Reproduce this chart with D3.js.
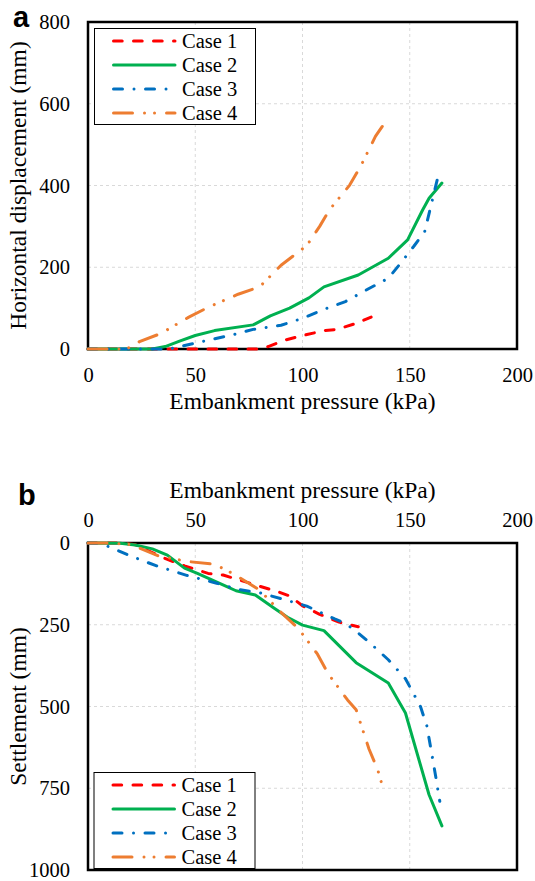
<!DOCTYPE html>
<html>
<head>
<meta charset="utf-8">
<script src="https://cdn.jsdelivr.net/npm/d3@7"></script>
<style>
  body { margin: 0; background: #fff; }
  svg { display: block; }
  text { font-family: "Liberation Serif", "Times New Roman", serif; fill: #000; }
</style>
</head>
<body>
<div id="chart"></div>
<script>
// ---- data ----
const pressureTicks = [0, 50, 100, 150, 200];
const dispTicks = [0, 200, 400, 600, 800];
const settleTicks = [0, 250, 500, 750, 1000];
const caseNames = ["Case 1", "Case 2", "Case 3", "Case 4"];

// (a) horizontal displacement, [pressure kPa, mm]
const hCase1 = [[0, 0], [79, 0], [84, 6], [92, 22], [101, 34], [110, 45], [116, 48], [124, 61], [132, 78]];
const hCase2 = [[0, 0], [30, 0], [36, 6], [43, 20], [50, 33], [59, 45], [77, 59], [85, 81], [94, 100],
  [103, 125], [110, 152], [126, 181], [140, 222], [149, 267], [156, 340], [159, 369], [165, 406]];
const hCase3 = [[0, 0], [38, 0], [43, 6], [58, 24], [67, 34], [77, 48], [90, 58], [100, 75], [110, 97],
  [120, 116], [131, 148], [140, 173], [145, 205], [152, 252], [157, 288], [163, 418]];
const hCase4 = [[0, 0], [18, 0], [24, 18], [34, 38], [47, 78], [56, 102], [70, 134], [80, 152], [90, 205],
  [102, 253], [108, 300], [112.5, 340], [122, 401], [127, 446], [134, 520], [139.5, 562]];

// (b) settlement, [pressure kPa, mm]
const sCase1 = [[0, 0], [15, 0], [22, 5], [35, 45], [45, 70], [56, 93], [63, 98], [75, 122], [89, 150],
  [94, 162], [100, 192], [108, 218], [117, 242], [126, 256]];
const sCase2 = [[0, 0], [15, 1], [22, 6], [30, 18], [37, 37], [45, 77], [51, 93], [65, 134], [69, 146],
  [78, 159], [87, 200], [93, 227], [100, 251], [110, 268], [125, 366], [140, 428], [148, 520],
  [159, 770], [165, 865]];
const sCase3 = [[0, 0], [5, 1], [10, 12], [20, 40], [32, 70], [46, 99], [60, 123], [70, 142], [80, 152],
  [92, 174], [102, 193], [115, 232], [120, 246], [125, 270], [131, 303], [140, 357], [148, 415],
  [155, 500], [158, 560], [162, 710], [164, 790]];
const sCase4 = [[0, 0], [10, 0], [20, 5], [33, 40], [47, 57], [59, 65], [68, 95], [80, 144], [90, 212],
  [98, 261], [107, 340], [112, 400], [121, 480], [125, 510], [131, 630], [135, 692], [138, 760]];

// ---- styles ----
const caseColors = ["#FF0000", "#00B050", "#0070C0", "#ED7D31"];
const caseDashes = ["8.7,11.3", null, "9,11.5,0.01,11.5", "19,12,0.01,10,0.01,12"];
const serif = '"Liberation Serif", "Times New Roman", serif';

const width = 535, height = 881;
const svg = d3.select("#chart").append("svg")
  .attr("width", width)
  .attr("height", height);

const x = d3.scaleLinear().domain([0, 200]).range([88, 517]);
const yDisp = d3.scaleLinear().domain([0, 800]).range([349, 22]);
const ySettle = d3.scaleLinear().domain([0, 1000]).range([543, 870]);

const drawPanel = (g, y, yTicks, series, xOnTop, yTitle) => {
  const [y0, y1] = d3.extent(y.range());

  // gridlines
  g.selectAll("line.vgrid")
    .data(pressureTicks.slice(1, -1))
    .enter().append("line")
    .attr("x1", d => x(d)).attr("x2", d => x(d))
    .attr("y1", y0).attr("y2", y1)
    .attr("stroke", "#d9d9d9").attr("stroke-width", 1).attr("stroke-dasharray", "3,3");
  g.selectAll("line.hgrid")
    .data(yTicks.slice(1, -1))
    .enter().append("line")
    .attr("x1", x(0)).attr("x2", x(200))
    .attr("y1", d => y(d)).attr("y2", d => y(d))
    .attr("stroke", "#d9d9d9").attr("stroke-width", 1).attr("stroke-dasharray", "3,3");

  // plot frame
  g.append("rect")
    .attr("x", x(0)).attr("y", y0)
    .attr("width", x(200) - x(0)).attr("height", y1 - y0)
    .attr("fill", "none").attr("stroke", "#000").attr("stroke-width", 2.5);

  // axes
  const fmt = d3.format("d");
  const yAxis = g.append("g")
    .attr("transform", `translate(${x(0)},0)`)
    .call(d3.axisLeft(y).tickValues(yTicks).tickFormat(fmt).tickSize(0).tickPadding(18));
  const xAxis = xOnTop
    ? g.append("g").attr("transform", `translate(0,${y0})`)
        .call(d3.axisTop(x).tickValues(pressureTicks).tickFormat(fmt).tickSize(0).tickPadding(16))
    : g.append("g").attr("transform", `translate(0,${y1})`)
        .call(d3.axisBottom(x).tickValues(pressureTicks).tickFormat(fmt).tickSize(0).tickPadding(18));
  [xAxis, yAxis].forEach(a => {
    a.select(".domain").remove();
    a.attr("font-family", serif).attr("font-size", 20.5);
    a.selectAll("text")
      .attr("fill", "#000")
      .style("font-family", serif)
      .style("font-size", "20.5px");
  });

  // axis titles
  g.append("text")
    .attr("x", (x(0) + x(200)) / 2)
    .attr("y", xOnTop ? 498 : 409)
    .attr("text-anchor", "middle")
    .style("font-family", serif)
    .style("font-size", "23.5px")
    .text("Embankment pressure (kPa)");
  g.append("text")
    .attr("transform", `translate(26,${(y0 + y1) / 2}) rotate(-90)`)
    .attr("text-anchor", "middle")
    .style("font-family", serif)
    .style("font-size", "23.5px")
    .text(yTitle);

  // data lines
  const line = d3.line().x(d => x(d[0])).y(d => y(d[1]));
  series.forEach((s, i) => {
    g.append("path")
      .datum(s)
      .attr("d", line)
      .attr("fill", "none")
      .attr("stroke", caseColors[i])
      .attr("stroke-width", 3)
      .attr("stroke-linecap", "round")
      .attr("stroke-linejoin", "round")
      .attr("stroke-dasharray", caseDashes[i]);
  });
};

const drawLegend = (g, left, top) => {
  g.append("rect")
    .attr("x", left).attr("y", top)
    .attr("width", 161).attr("height", 96)
    .attr("fill", "#fff").attr("stroke", "#000").attr("stroke-width", 1);
  caseNames.forEach((name, i) => {
    const cy = top + 12.5 + i * 24;
    g.append("line")
      .attr("x1", left + 19).attr("x2", left + 80.5)
      .attr("y1", cy).attr("y2", cy)
      .attr("stroke", caseColors[i])
      .attr("stroke-width", 3)
      .attr("stroke-linecap", "round")
      .attr("stroke-dasharray", caseDashes[i]);
    g.append("text")
      .attr("x", left + 87.5).attr("y", cy + 7)
      .style("font-family", serif)
      .style("font-size", "20.5px")
      .text(name);
  });
};

// panel a
const gA = svg.append("g");
drawPanel(gA, yDisp, dispTicks, [hCase1, hCase2, hCase3, hCase4], false, "Horizontal displacement (mm)");
drawLegend(gA, 94.5, 28.5);
gA.append("text")
  .attr("x", 13).attr("y", 26.5)
  .style("font-family", '"Liberation Sans", Arial, sans-serif')
  .style("font-weight", "bold")
  .style("font-size", "29px")
  .text("a");

// panel b
const gB = svg.append("g");
drawPanel(gB, ySettle, settleTicks, [sCase1, sCase2, sCase3, sCase4], true, "Settlement (mm)");
drawLegend(gB, 94, 772.5);
gB.append("text")
  .attr("x", 18).attr("y", 505)
  .style("font-family", '"Liberation Sans", Arial, sans-serif')
  .style("font-weight", "bold")
  .style("font-size", "29px")
  .text("b");
</script>
</body>
</html>
